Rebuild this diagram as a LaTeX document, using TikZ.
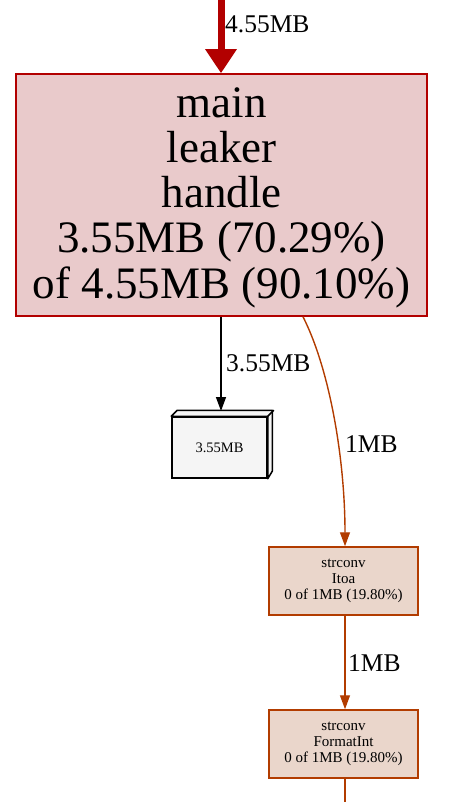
\documentclass[tikz,border=0pt]{standalone}
\usepackage{fontspec}
\setmainfont{Liberation Serif}
\usetikzlibrary{arrows.meta}
\definecolor{hotred}{HTML}{B20000}
\definecolor{hotfill}{HTML}{E9CACB}
\definecolor{warmbrown}{HTML}{B23C00}
\definecolor{warmfill}{HTML}{EAD6CB}
\definecolor{leaffill}{HTML}{F5F5F5}
\tikzset{
  x=1pt,y=1pt,
  bigbox/.style={draw=hotred,fill=hotfill,line width=1.5pt,inner sep=0pt,minimum width=411pt,minimum height=242pt,align=center,font=\fontsize{45}{45}\selectfont},
  fnbox/.style={draw=warmbrown,fill=warmfill,line width=1.5pt,inner sep=0pt,minimum width=149pt,minimum height=68pt,align=center,font=\fontsize{15}{16}\selectfont},
  leafbox/.style={draw=black,fill=leaffill,line width=1.5pt,inner sep=0pt,minimum width=95pt,minimum height=61pt,font=\fontsize{14.5}{16}\selectfont},
  elabel/.style={font=\fontsize{25.5}{26}\selectfont,inner sep=0pt},
  thin arrow/.style={line width=1.4pt,-{Triangle[width=10pt,length=14pt]}},
}
\begin{document}
\begin{tikzpicture}
\useasboundingbox (0,0) rectangle (462,-802);
\node[bigbox] (main) at (221.5,-195) {\raisebox{0pt}[\dimexpr\height+8pt\relax][\depth]{\begin{tabular}{@{}c@{}}main\\leaker\\handle\\3.55MB (70.29\%)\\of 4.55MB (90.10\%)\end{tabular}}};
\node[leafbox] (leaf) at (219.5,-447.5) {3.55MB};
\filldraw[fill=leaffill,draw=black,line width=1.5pt,line join=round]
  (leaf.north west) -- ++(6,6) -- ++(95,0) -- ++(0,-61) -- (leaf.south east) -- (leaf.north east) -- cycle;
\draw[line width=1.5pt] (leaf.north east) -- ++(6,6);
\coordinate (leaftop) at (221,-411);
\node[fnbox] (itoa) at (343.5,-581) {strconv\\Itoa\\0 of 1MB (19.80\%)};
\node[fnbox] (fmt) at (343.5,-744) {strconv\\FormatInt\\0 of 1MB (19.80\%)};
\coordinate (topin) at (221,0);
\coordinate (botout) at (345,-802);
% edges
\draw[hotred,line width=7pt,-{Triangle[width=30pt,length=24pt]}] (topin) -- (main.north -| topin);
\node[elabel,anchor=base west] (l0) at (225,-33) {4.55MB};
\draw[black,thin arrow] (main.south -| leaftop) -- (leaftop);
\node[elabel,anchor=base west] (l1) at (226,-371) {3.55MB};
\draw[warmbrown,thin arrow] (main.south -| 303,0) .. controls (330,-370) and (345,-460) .. (itoa.north -| 345,0);
\node[elabel,anchor=base west] (l2) at (345,-452) {1MB};
\draw[warmbrown,thin arrow] (itoa.south -| 345,0) -- (fmt.north -| 345,0);
\node[elabel,anchor=base west] (l3) at (348,-671) {1MB};
\draw[warmbrown,line width=1.4pt] (fmt.south -| botout) -- (botout);
\end{tikzpicture}
\end{document}
